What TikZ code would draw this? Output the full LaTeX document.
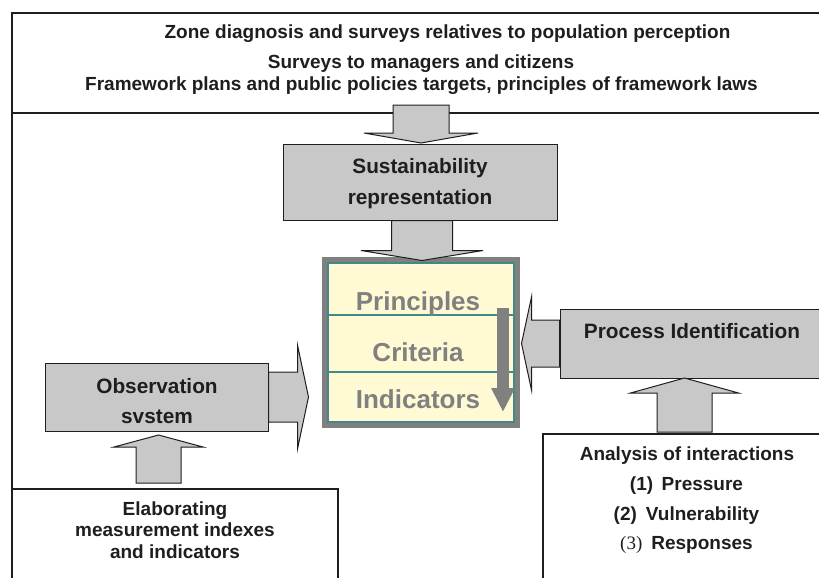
\documentclass[tikz,border=0pt]{standalone}
\usepackage{fontspec}
\setmainfont{Liberation Sans}
\newfontfamily\timesfont{Liberation Serif}
\usetikzlibrary{arrows.meta}

\definecolor{boxgrey}{RGB}{200,200,200}
\definecolor{framegrey}{RGB}{128,128,128}
\definecolor{tealline}{RGB}{64,138,138}
\definecolor{paleyellow}{RGB}{255,250,212}
\definecolor{inkblack}{RGB}{30,30,30}

% block arrow: base point, direction, length, shaft width, head width, head length
\newcommand{\blockarr}[6]{%
  \draw[blockarrow, shift={#1}, rotate=#2]
    (0,{-#4/2}) -- ({#3-#6},{-#4/2}) -- ({#3-#6},{-#5/2}) -- (#3,0)
    -- ({#3-#6},{#5/2}) -- ({#3-#6},{#4/2}) -- (0,{#4/2}) -- cycle;}

\tikzset{
  frameline/.style={draw=inkblack, line width=1.5pt},
  greybox/.style={draw=inkblack, line width=1pt, fill=boxgrey, inner sep=0pt},
  blockarrow/.style={draw=inkblack, line width=1pt, fill=boxgrey, line join=miter},
  pcbox/.style={draw=framegrey, line width=5pt, fill=paleyellow, inner sep=0pt},
  tealframe/.style={draw=tealline, line width=1.3pt},
  pcarrow/.style={draw=framegrey, line width=12pt, -{Triangle[length=24pt,width=22pt]}},
  toptext/.style={font=\bfseries\fontsize{19}{22}\selectfont, text=inkblack, anchor=base, inner sep=0pt},
  boxtext/.style={font=\bfseries\fontsize{20.8}{24}\selectfont, text=inkblack, anchor=base, inner sep=0pt},
  pctext/.style={font=\bfseries\fontsize{26}{30}\selectfont, text=framegrey, anchor=base, inner sep=0pt}
}

\begin{document}
\begin{tikzpicture}[x=1pt, y=-1pt]
   \useasboundingbox (0,0) rectangle (819,578);

   % frame and side boxes
   \draw[frameline, line width=2pt] (819,13) -- (12,13) -- (12,578);
   \draw[frameline, line width=2pt] (12,113) -- (819,113);
   \draw[frameline] (12,489) -- (338,489) -- (338,578);
   \draw[frameline] (543,578) -- (543,434) -- (819,434);

   \foreach \n/\x/\y/\t in
     { 1/447.5/39/{Zone diagnosis and surveys relatives to population perception},
       2/421/68/{Surveys to managers and citizens},
       3/421.5/90/{Framework plans and public policies targets, principles of framework laws}
     }
     \node[toptext] (top\n) at (\x,\y) {\t};

   % grey boxes
   \node[greybox, minimum width=274pt, minimum height=76pt] (sustbox) at (420,182) {};
   \node[greybox, minimum width=223pt, minimum height=68pt] (obsbox) at (156.5,397) {};
   \node[greybox, minimum width=270pt, minimum height=69pt] (procbox) at (695,343.5) {};

   \node[boxtext] (sust1) at (420,173) {Sustainability};
   \node[boxtext] (sust2) at (420,204) {representation};
   \node[boxtext] (obs1) at (157,393) {Observation};
   \node[boxtext] (obs2) at (157,423) {svstem};
   \node[boxtext] (proc) at (692,338) {Process Identification};

   % principles / criteria / indicators
   \node[pcbox, minimum width=193pt, minimum height=166pt] (pc) at (421,342.5) {};
   \draw[tealframe] (328,263) rectangle (514,422);
   \draw[tealframe] (328,315) -- (514,315);
   \draw[tealframe] (328,372) -- (514,372);
   \node[pctext] (princ) at (418,310) {Principles};
   \node[pctext] (crit) at (418,361) {Criteria};
   \node[pctext] (indic) at (418,408) {Indicators};
   \coordinate (pcstart) at (503,308);
   \coordinate (pcend) at (503,412);
   \draw[pcarrow] (pcstart) -- (pcend);

   % bottom texts
   \foreach \n/\y/\t in {1/515/Elaborating, 2/536/measurement indexes, 3/558/and indicators}
     \node[toptext] (elab\n) at (175,\y) {\t};
   \node[toptext] (anal) at (687,460) {Analysis of interactions};
   \node[toptext] (resp1) at (686.5,490) {(1)\hspace{8.5pt}Pressure};
   \node[toptext] (resp2) at (686.5,520) {(2)\hspace{9pt}Vulnerability};
   \node[toptext] (resp3) at (686.5,549) {{\timesfont\mdseries (3)}\hspace{9pt}Responses};

   % block arrows
   \coordinate (topout) at (421,105);
   \coordinate (elabout) at (158.5,483);
   \coordinate (analout) at (684.5,432);
   \blockarr{(topout)}{-90}{38}{56}{114}{10}
   \blockarr{([xshift=2pt]sustbox.south)}{-90}{40}{61}{122}{10}
   \blockarr{(obsbox.east)}{0}{40}{50}{104}{11}
   \blockarr{(procbox.west)}{180}{38}{47}{93}{10}
   \blockarr{(elabout)}{90}{48}{45}{89}{12}
   \blockarr{(analout)}{90}{54}{55}{108}{15}
\end{tikzpicture}
\end{document}
